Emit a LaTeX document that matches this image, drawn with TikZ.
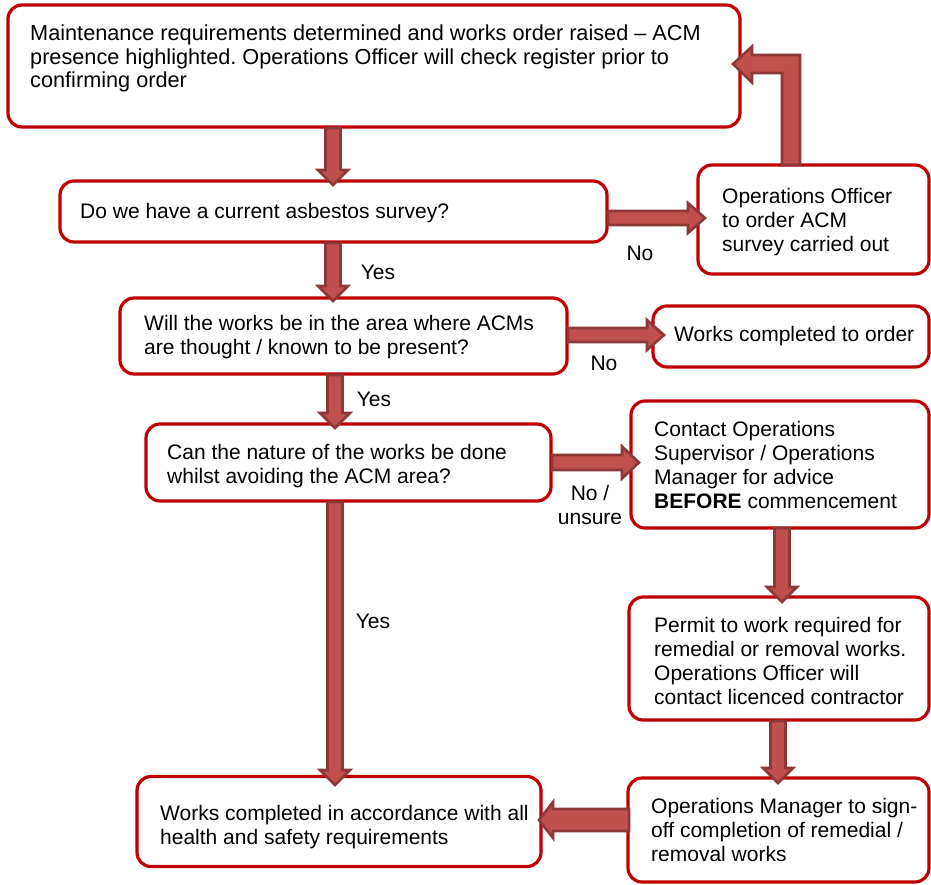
\documentclass[tikz,border=0pt]{standalone}
\usepackage{fontspec}
\setmainfont{Liberation Sans}
\frenchspacing
\definecolor{boxred}{HTML}{C00000}
\definecolor{arrfill}{HTML}{C0504D}
\definecolor{arredge}{HTML}{8C3836}
\newcommand\varr[5]{\filldraw[blk] (#1-#4,#2) -- (#1-#4,#3-15) -- (#1-#5,#3-15) -- (#1,#3) -- (#1+#5,#3-15) -- (#1+#4,#3-15) -- (#1+#4,#2) -- cycle;}
\newcommand\harr[6]{\filldraw[blk] (#2,#1-#4) -- (#3-#6,#1-#4) -- (#3-#6,#1-#5) -- (#3,#1) -- (#3-#6,#1+#5) -- (#3-#6,#1+#4) -- (#2,#1+#4) -- cycle;}
\begin{document}
\begin{tikzpicture}[x=1pt,y=-1pt,
  box/.style={draw=boxred, line width=3.2pt, rounded corners=14pt, inner sep=0pt, fill=white},
  txt/.style={font=\fontsize{21}{23.7}\selectfont, align=left, inner sep=0pt, anchor=west},
  lbl/.style={font=\fontsize{21}{23.7}\selectfont, align=center, inner sep=0pt},
  blk/.style={fill=arrfill, draw=arredge, line width=2.6pt, line join=miter}]
\useasboundingbox (0,0) rectangle (931,884);
% boxes
\node[box, minimum width=732, minimum height=122] (m1) at (374,66) {};
\node[box, minimum width=547, minimum height=61] (b2) at (333.5,211.5) {};
\node[box, minimum width=231, minimum height=109] (b3) at (813.5,219.5) {};
\node[box, minimum width=447, minimum height=76] (b4) at (343.5,336) {};
\node[box, minimum width=276, minimum height=61] (b5) at (791,336.5) {};
\node[box, minimum width=405, minimum height=77] (b6) at (348.5,462.5) {};
\node[box, minimum width=298, minimum height=127] (b7) at (780,464.5) {};
\node[box, minimum width=300, minimum height=123] (b8) at (779,658.5) {};
\node[box, minimum width=404, minimum height=90] (b9) at (339,821.5) {};
\node[box, minimum width=301, minimum height=104] (b10) at (778.5,830) {};
% texts
\node[txt, font=\fontsize{21.7}{23.7}\selectfont] (t1) at (30,58.5) {Maintenance requirements determined and works order raised -- ACM\\presence highlighted. Operations Officer will check register prior to\\confirming order};
\node[txt] (t2) at (80,213) {Do we have a current asbestos survey?};
\node[txt] (t3) at (722,222) {Operations Officer\\to order ACM\\survey carried out};
\node[txt] (t4) at (144,337) {Will the works be in the area where ACMs\\are thought / known to be present?};
\node[txt] (t5) at (674,336) {Works completed to order};
\node[txt] (t6) at (167,466) {Can the nature of the works be done\\whilst avoiding the ACM area?};
\node[txt] (t7) at (654,465) {Contact Operations\\Supervisor / Operations\\Manager for advice\\\textbf{BEFORE} commencement};
\node[txt] (t8) at (654,661) {Permit to work required for\\remedial or removal works.\\Operations Officer will\\contact licenced contractor};
\node[txt] (t9) at (160,827) {Works completed in accordance with all\\health and safety requirements};
\node[txt] (t10) at (651,830) {Operations Manager to sign-\\off completion of remedial /\\removal works};
% labels
\node[lbl] (l1) at (640,253) {No};
\node[lbl] (l2) at (378,272) {Yes};
\node[lbl] (l3) at (604,363) {No};
\node[lbl] (l4) at (374,399) {Yes};
\node[lbl] (l5) at (590,505) {No /\\unsure};
\node[lbl] (l6) at (373,621) {Yes};
% block arrows
\varr{333}{128}{185}{7.5}{15}
\varr{333}{243}{301}{7.5}{15}
\varr{335}{375}{428}{7.5}{15}
\varr{335}{502}{785}{7.5}{15}
\varr{782}{528}{602}{7.5}{15}
\varr{778}{721}{783}{7.5}{15}
\harr{218}{608}{705}{7}{15}{17}
\harr{335}{568}{664}{7}{15}{17}
\harr{462.5}{552}{639}{7.5}{16}{17}
\harr{820}{629}{539}{11}{18}{-14}
\filldraw[blk] (782,165) -- (782,73) -- (752,73) -- (752,82.5) -- (733,64) -- (752,46.5) -- (752,55) -- (800,55) -- (800,165) -- cycle;
\end{tikzpicture}
\end{document}
